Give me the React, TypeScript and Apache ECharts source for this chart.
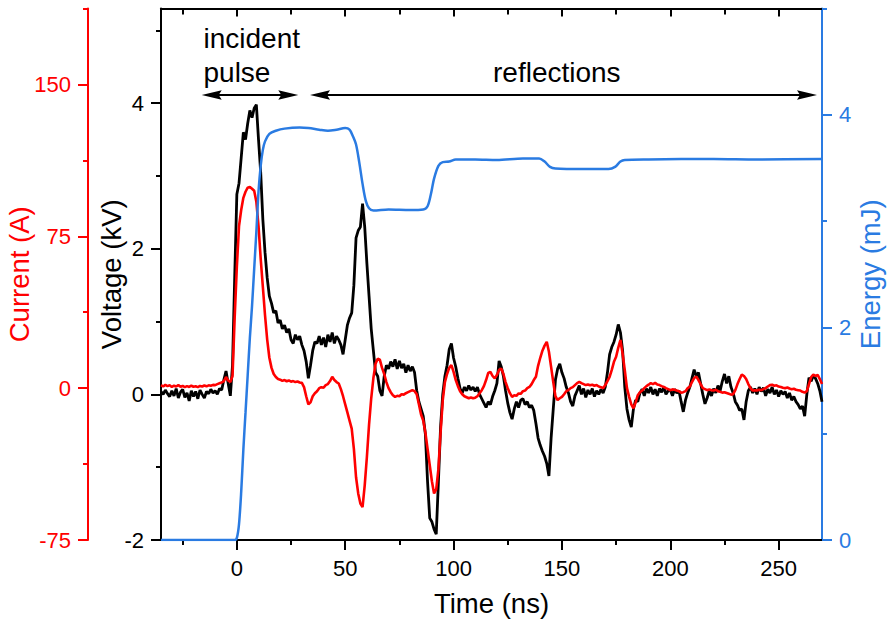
import React, { useEffect, useRef } from "react";
import * as echarts from "echarts";

// ---- data ----
const T_START = -35; // ns, first sample of uniformly sampled traces
const T_STEP = 1; // ns

// Voltage (kV), sampled every 1 ns from -35 ns to 270 ns
const voltage = [
  0.04, 0.0, 0.06, 0.01, -0.03, 0.05, -0.02, 0.08, -0.05, 0.03,
  0.07, -0.04, 0.02, -0.09, 0.05, -0.03, 0.04, -0.06, 0.06, 0.0,
  -0.05, 0.04, 0.01, 0.07, 0.02, 0.05, 0.0, 0.08, 0.06, 0.2,
  0.32, 0.15, -0.02, 0.4, 1.6, 2.75, 2.9, 3.25, 3.6, 3.5,
  3.72, 3.9, 3.8, 3.93, 3.98, 3.5, 3.05, 2.4, 1.95, 1.6,
  1.35, 1.25, 1.12, 1.15, 0.98, 1.02, 0.9, 0.95, 0.85, 0.9,
  0.75, 0.7, 0.82, 0.75, 0.8, 0.68, 0.6, 0.45, 0.22, 0.4,
  0.6, 0.72, 0.7, 0.8, 0.68, 0.78, 0.65, 0.82, 0.72, 0.85,
  0.7, 0.8, 0.75, 0.68, 0.55, 0.75, 0.95, 1.05, 1.12, 1.5,
  2.15, 2.25, 2.3, 2.62, 2.3, 1.8, 1.35, 0.9, 0.6, 0.3,
  0.25, 0.05, -0.02, 0.25, 0.4, 0.35, 0.45, 0.38, 0.48, 0.35,
  0.46, 0.36, 0.42, 0.3, 0.4, 0.32, 0.38, 0.3, 0.05, -0.1,
  -0.2, -0.3, -0.55, -1.2, -1.7, -1.75, -1.85, -1.92, -1.2, -0.45,
  0.0, 0.25, 0.4, 0.62, 0.7, 0.5, 0.38, 0.22, 0.08, 0.02,
  0.1, 0.05, 0.12, 0.06, 0.1, 0.04, 0.1, 0.0, -0.06, -0.12,
  -0.18, -0.1, -0.14, -0.03, 0.05, 0.15, 0.46, 0.38, 0.25, 0.05,
  -0.12, -0.25, -0.34, -0.2, -0.1, -0.18, -0.08, -0.06, -0.14, -0.1,
  -0.18, -0.15, -0.22, -0.4, -0.6, -0.7, -0.78, -0.85, -0.95, -1.12,
  -0.6, -0.2, 0.2, 0.35, 0.42, 0.3, 0.22, 0.1, 0.02, -0.1,
  -0.16, -0.02, 0.05, 0.12, 0.0, 0.08, -0.04, 0.06, 0.0, 0.08,
  -0.03, 0.05, 0.0, 0.07, 0.02, 0.1, 0.3, 0.55, 0.65, 0.72,
  0.82, 0.96, 0.85, 0.6, 0.1, -0.2, -0.35, -0.45, -0.2, -0.08,
  -0.1, 0.02, 0.07, -0.02, 0.08, 0.02, 0.1, 0.0, 0.07, -0.02,
  0.08, 0.03, 0.1, 0.0, 0.05, 0.06, -0.02, 0.07, 0.02, 0.05,
  -0.1, -0.24, -0.08, 0.02, 0.1, 0.22, 0.34, 0.25, 0.3, 0.15,
  0.0, -0.13, -0.05, 0.05, -0.02, 0.08, 0.02, 0.12, 0.05, 0.18,
  0.28, 0.15, 0.25, 0.1, 0.02, -0.1, -0.15, -0.22, -0.2, -0.35,
  -0.1, 0.05, 0.1, 0.02, 0.08, 0.0, 0.1, 0.04, 0.09, -0.02,
  0.07, 0.02, 0.1, 0.0, 0.06, -0.03, 0.05, 0.0, 0.04, -0.05,
  0.02, -0.08, -0.03, -0.1, -0.14, -0.2, -0.16, -0.3, 0.0, 0.23,
  0.18, 0.26, 0.22, 0.15, 0.05, -0.1,
];

// Current (A), sampled every 1 ns from -35 ns to 270 ns
const current = [
  1.5, 0.8, 1.6, 1.0, 1.4, 0.6, 1.2, 0.8, 1.5, 0.7,
  1.1, 0.5, 1.0, 0.6, 1.2, 0.7, 0.9, 0.5, 1.1, 0.8,
  1.3, 0.9, 1.4, 1.2, 1.6, 1.5, 2.0, 2.4, 2.8, 3.5,
  5.5, 3.8, 3.0, 6, 35, 60, 80, 88, 94, 97,
  99, 99.4, 98.5, 97.5, 92, 80, 64, 50, 36, 24,
  15, 10, 7, 5.5, 4.5, 4.2, 3.6, 4.0, 3.4, 3.8,
  3.2, 3.5, 3.0, 3.3, 2.8, 2.6, 0.5, -4, -8, -7,
  -4, -2.5, -1.5, 0, 0.5, 0.2, 1.5, 2.0, 3.5, 5.6,
  4.0, 3.0, 2.3, -0.5, -4, -8, -12, -16, -20, -30,
  -44, -52, -57, -58.8, -48, -34, -18, -5, 5, 12,
  14.5, 14, 10, 7, 3, 0, -2, -3.5, -4.3, -3.8,
  -4.0, -3.0, -3.2, -2.5, -2.0, -1.5, -1.0, -1.5, -3, -8,
  -13, -16, -22, -30, -38, -46, -52, -50, -40, -22,
  -6, 3, 7, 10, 11.4, 8, 4, 1, -1.5, -3,
  -4, -4.5, -5, -4.6, -5, -4.7, -4, -2.5, -1, 1,
  4, 7.5, 8, 6, 4.8, 6.5, 9, 9.7, 7, 3,
  0, -2.5, -4.3, -3.5, -3.8, -2.6, -2.8, -1.5, -1.2, 0,
  0.6, 2, 4, 5.6, 11, 15, 18.5, 21, 22.9, 18,
  10.5, 3, -4, -5.9, -5, -4.3, -3, -1.5, -1, 0,
  0.5, 1.5, 2.5, 3.1, 2.5, 2.0, 1.5, 1.8, 1.4, 1.7,
  1.2, 1.5, 0.8, 0.5, 0, 1.5, 3.5, 5.6, 9, 13,
  15.5, 20, 23.8, 17, 8.9, 0, -4.3, -8, -10, -7,
  -3.5, -2, -1.2, 0, 1.0, 1.7, 2.5, 2.0, 2.6, 1.8,
  1.5, 1.0, 0.6, 0, -0.5, -1, -0.6, -0.8, -1.2, -1.5,
  -2.2, -2.0, -1.5, 0, 0.7, 3, 5, 5.7, 4, 2,
  0, -0.5, -1, -0.6, -1, -1.2, -0.8, -1.5, -1.8, -2.2,
  -2.0, -2.4, -2.8, -3.2, -3.0, -1, 2, 4.5, 6.7, 6,
  4.5, 2, 0, -1.2, -1.0, -1.2, -0.8, -1.0, -0.5, 0,
  0.8, 1.5, 1.7, 1.2, 1.4, 0.8, 0.6, 0.2, 0, 0.3,
  -0.2, -0.5, -0.3, -0.8, -1.0, -1.2, -1.8, -2.2, -1.5, 2,
  5.5, 6.7, 6.0, 6.5, 4.5, 2,
];

// Energy (mJ): [time (ns), energy]
const energy: [number, number][] = [
  [-35, 0], [-1, 0], [0, 0.02], [1, 0.15], [2, 0.45], [3, 0.85], [4, 1.2],
  [5, 1.55], [6, 1.9], [7, 2.2], [8, 2.55], [9, 2.9], [10, 3.28], [11, 3.52],
  [12, 3.67], [13, 3.75], [15, 3.82], [18, 3.85], [22, 3.87], [29, 3.88],
  [33, 3.875], [38, 3.86], [42, 3.85], [46, 3.86], [50, 3.875], [52, 3.86],
  [53.5, 3.8], [55, 3.72], [56.5, 3.55], [58, 3.35], [59.5, 3.19], [61, 3.12],
  [63, 3.1], [70, 3.11], [80, 3.105], [86, 3.11], [88, 3.14], [89.5, 3.25],
  [91, 3.4], [93, 3.52], [95, 3.555], [98, 3.56], [101, 3.58], [110, 3.58],
  [120, 3.575], [132, 3.59], [139.5, 3.59], [142, 3.56], [144.5, 3.51],
  [147, 3.495], [160, 3.49], [171.5, 3.49], [174.5, 3.51], [177, 3.56],
  [179, 3.575], [190, 3.58], [220, 3.585], [240, 3.58], [270, 3.585],
];

// Tick positions / labels
const xMajorTicks = [0, 50, 100, 150, 200, 250];
const xMinorTicks = [-25, 25, 75, 125, 175, 225];
const vMajorTicks = [-2, 0, 2, 4];
const vMinorTicks = [-1, 1, 3, 5];
const iMajorTicks = [-75, 0, 75, 150];
const iMinorTicks = [-37.5, 37.5, 112.5, 187.5];
const eMajorTicks = [0, 2, 4];
const eMinorTicks = [1, 3, 5];

const FONT = "'Liberation Sans', Arial, Helvetica, sans-serif";
const BLACK = "#000000";
const RED = "#ff0000";
const BLUE = "#2a7be2";

function toPairs(values: number[]): [number, number][] {
  return values.map((v, i) => [T_START + i * T_STEP, v]);
}

function xAx(opts: {
  position: "bottom" | "top";
  ticks: number[];
  len: number;
  inside: boolean;
  line: boolean;
  labels: boolean;
  name?: string;
}) {
  return {
    type: "value",
    gridIndex: 0,
    position: opts.position,
    min: -35,
    max: 270,
    name: opts.name,
    nameLocation: "middle",
    nameGap: 49,
    nameMoveOverlap: false,
    nameTextStyle: { fontSize: 27.5, color: BLACK, fontFamily: FONT },
    axisLine: { show: opts.line, onZero: false, lineStyle: { color: BLACK, width: 2 } },
    axisTick: {
      show: true,
      customValues: opts.ticks,
      length: opts.len,
      inside: opts.inside,
      lineStyle: { color: BLACK, width: 2 },
    },
    axisLabel: opts.labels
      ? { show: true, customValues: opts.ticks, margin: 17, fontSize: 22, color: BLACK, fontFamily: FONT }
      : { show: false },
    splitLine: { show: false },
    minorTick: { show: false },
  };
}

function yAx(opts: {
  position: "left" | "right";
  offset: number;
  min: number;
  max: number;
  color: string;
  ticks: number[];
  len: number;
  line: boolean;
  labels: boolean;
  name?: string;
  nameGap?: number;
}) {
  return {
    type: "value",
    gridIndex: 0,
    position: opts.position,
    offset: opts.offset,
    min: opts.min,
    max: opts.max,
    name: opts.name,
    nameLocation: "middle",
    nameGap: opts.nameGap ?? 30,
    nameMoveOverlap: false,
    nameTextStyle: { fontSize: 27.5, color: opts.color, fontFamily: FONT },
    axisLine: { show: opts.line, onZero: false, lineStyle: { color: opts.color, width: 2 } },
    axisTick: {
      show: true,
      customValues: opts.ticks,
      length: opts.len,
      inside: false,
      lineStyle: { color: opts.color, width: 2 },
    },
    axisLabel: opts.labels
      ? { show: true, customValues: opts.ticks, margin: 17, fontSize: 22, color: opts.color, fontFamily: FONT }
      : { show: false },
    splitLine: { show: false },
    minorTick: { show: false },
  };
}

function arrowHead(tipX: number, y: number, dir: 1 | -1) {
  const len = 20;
  const half = 4.8;
  return {
    type: "polygon",
    silent: true,
    shape: {
      points: [
        [tipX, y],
        [tipX - dir * len, y - half],
        [tipX - dir * len * 0.85, y],
        [tipX - dir * len, y + half],
      ],
    },
    style: { fill: BLACK },
  };
}

export default function App() {
  const ref = useRef<HTMLDivElement | null>(null);

  useEffect(() => {
    if (!ref.current) return;
    const chart = echarts.init(ref.current, null, { renderer: "svg" });
    const arrowY = 95;
    const option: any = {
      animation: false,
      backgroundColor: "#ffffff",
      textStyle: { fontFamily: FONT },
      grid: {
        left: 161,
        right: 70,
        top: 8.5,
        bottom: 85,
        containLabel: false,
        outerBoundsMode: "none",
      },
      xAxis: [
        xAx({ position: "bottom", ticks: xMajorTicks, len: 10, inside: false, line: true, labels: true, name: "Time (ns)" }),
        xAx({ position: "bottom", ticks: xMinorTicks, len: 5, inside: false, line: false, labels: false }),
        xAx({ position: "top", ticks: xMajorTicks, len: 8, inside: true, line: true, labels: false }),
        xAx({ position: "top", ticks: xMinorTicks, len: 6, inside: true, line: false, labels: false }),
      ],
      yAxis: [
        yAx({ position: "left", offset: 0, min: -2, max: 5.3, color: BLACK, ticks: vMajorTicks, len: 10, line: true, labels: true, name: "Voltage (kV)", nameGap: 36 }),
        yAx({ position: "left", offset: 0, min: -2, max: 5.3, color: BLACK, ticks: vMinorTicks, len: 5, line: false, labels: false }),
        yAx({ position: "left", offset: 73, min: -75, max: 187.5, color: RED, ticks: iMajorTicks, len: 10, line: true, labels: true, name: "Current (A)", nameGap: 55 }),
        yAx({ position: "left", offset: 73, min: -75, max: 187.5, color: RED, ticks: iMinorTicks, len: 5, line: false, labels: false }),
        yAx({ position: "right", offset: 0, min: 0, max: 5, color: BLUE, ticks: eMajorTicks, len: 10, line: true, labels: true, name: "Energy (mJ)", nameGap: 34 }),
        yAx({ position: "right", offset: 0, min: 0, max: 5, color: BLUE, ticks: eMinorTicks, len: 5, line: false, labels: false }),
      ],
      series: [
        {
          name: "Voltage",
          type: "line",
          xAxisIndex: 0,
          yAxisIndex: 0,
          data: toPairs(voltage),
          showSymbol: false,
          symbol: "none",
          lineStyle: { color: BLACK, width: 2.8 },
          z: 3,
        },
        {
          name: "Current",
          type: "line",
          xAxisIndex: 0,
          yAxisIndex: 2,
          data: toPairs(current),
          showSymbol: false,
          symbol: "none",
          lineStyle: { color: RED, width: 2.6 },
          z: 4,
        },
        {
          name: "Energy",
          type: "line",
          xAxisIndex: 0,
          yAxisIndex: 4,
          data: energy,
          smooth: 0.3,
          showSymbol: false,
          symbol: "none",
          lineStyle: { color: BLUE, width: 2.5 },
          z: 5,
        },
      ],
      graphic: [
        {
          type: "text",
          x: 203.5,
          y: 38.6,
          silent: true,
          style: { text: "incident", font: `28px ${FONT}`, fill: BLACK, textAlign: "left", textVerticalAlign: "middle" },
        },
        {
          type: "text",
          x: 203.5,
          y: 72,
          silent: true,
          style: { text: "pulse", font: `28px ${FONT}`, fill: BLACK, textAlign: "left", textVerticalAlign: "middle" },
        },
        {
          type: "text",
          x: 493,
          y: 72,
          silent: true,
          style: { text: "reflections", font: `28px ${FONT}`, fill: BLACK, textAlign: "left", textVerticalAlign: "middle" },
        },
        {
          type: "line",
          silent: true,
          shape: { x1: 212, y1: arrowY, x2: 288, y2: arrowY },
          style: { stroke: BLACK, lineWidth: 2.2 },
        },
        arrowHead(201.7, arrowY, -1),
        arrowHead(298.3, arrowY, 1),
        {
          type: "line",
          silent: true,
          shape: { x1: 320, y1: arrowY, x2: 807, y2: arrowY },
          style: { stroke: BLACK, lineWidth: 2.2 },
        },
        arrowHead(310, arrowY, -1),
        arrowHead(817, arrowY, 1),
      ],
    };
    chart.setOption(option);
    return () => {
      chart.dispose();
    };
  }, []);

  return (
    <div
      ref={ref}
      style={{ position: "fixed", left: 0, top: 0, width: 892, height: 625, background: "#ffffff" }}
    />
  );
}
